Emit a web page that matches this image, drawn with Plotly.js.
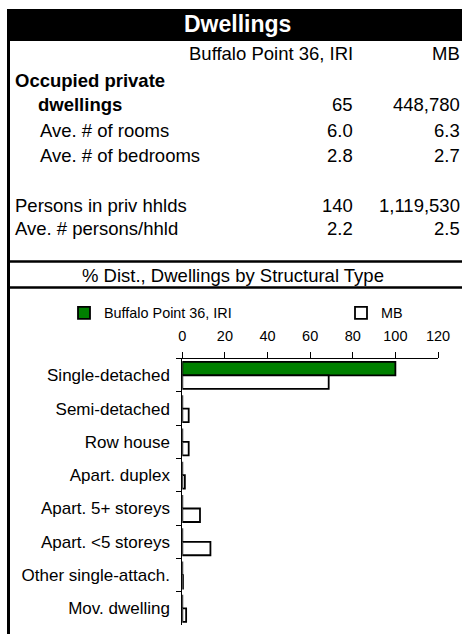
<!DOCTYPE html>
<html>
<head>
<meta charset="utf-8">
<script src="https://cdn.plot.ly/plotly-3.0.1.min.js"></script>
<style>
  body { margin: 0; padding: 0; background: #fff; }
  #plotArea { width: 462px; height: 634px; }
</style>
</head>
<body>
<div id="plotArea"></div>
<script>
// table part
var colHeads = ["Buffalo Point 36, IRI", "MB"];
var rowLabels = ["dwellings", "Ave. # of rooms", "Ave. # of bedrooms", "Persons in priv hhlds", "Ave. # persons/hhld"];
var buffaloVals = ["65", "6.0", "2.8", "140", "2.2"];
var mbVals = ["448,780", "6.3", "2.7", "1,119,530", "2.5"];

// chart part
var categories = ["Single-detached", "Semi-detached", "Row house", "Apart. duplex",
                  "Apart. 5+ storeys", "Apart. <5 storeys", "Other single-attach.", "Mov. dwelling"];
var buffaloPct = [100, 0, 0, 0, 0, 0, 0, 0];
var mbPct = [68.7, 3.0, 3.0, 1.2, 8.3, 13.2, 0.3, 1.8];
var xTicks = [0, 20, 40, 60, 80, 100, 120];

var W = 462, H = 634;
function X(px) { return px / W; }
function Y(py) { return 1 - py / H; }

var font = "'Liberation Sans', Arial, sans-serif";

var trace1 = {
    y: categories,
    x: buffaloPct,
    name: colHeads[0],
    type: "bar",
    orientation: "h",
    marker: {color: "#008000", line: {color: "#000", width: 1.8}},
    legend: "legend"
};

var trace2 = {
    y: categories,
    x: mbPct,
    name: colHeads[1],
    type: "bar",
    orientation: "h",
    marker: {color: "#fff", line: {color: "#000", width: 1.8}},
    legend: "legend2"
};

// text of the table
var ann = [];
function txt(s, x, y, anchor, size, bold, color) {
    ann.push({
        text: bold ? "<b>" + s + "</b>" : s,
        x: X(x), y: Y(y), xref: "paper", yref: "paper",
        xanchor: anchor, yanchor: "middle", showarrow: false,
        font: {family: font, size: size, color: color || "#000"}
    });
}

txt("Dwellings", 237, 24, "center", 23, true, "#fff");
txt(colHeads[0], 355, 53, "right", 18.5);
txt(colHeads[1], 462, 53, "right", 18.5);
txt("Occupied private", 13, 80, "left", 18.5, true);

var rowY = [105, 130, 155, 205, 229];
var rowX = [36, 38, 38, 13, 13];
for (var i = 0; i < rowLabels.length; i++) {
    txt(rowLabels[i], rowX[i], rowY[i], "left", 18.5, i == 0);
    txt(buffaloVals[i], 355, rowY[i], "right", 18.5);
    txt(mbVals[i], 462, rowY[i], "right", 18.5);
}
txt("% Dist., Dwellings by Structural Type", 233, 275, "center", 18.5);

var shapes = [
    // black title band
    {type: "rect", xref: "paper", yref: "paper", x0: X(7), x1: X(462), y0: Y(41), y1: Y(9),
     fillcolor: "#000", line: {width: 0}},
    // left border
    {type: "line", xref: "paper", yref: "paper", x0: X(8.5), x1: X(8.5), y0: Y(40), y1: Y(634),
     line: {color: "#000", width: 3}},
    {type: "line", xref: "paper", yref: "paper", x0: X(7), x1: X(462), y0: Y(261.5), y1: Y(261.5),
     line: {color: "#000", width: 2.5}},
    {type: "line", xref: "paper", yref: "paper", x0: X(7), x1: X(462), y0: Y(287.5), y1: Y(287.5),
     line: {color: "#000", width: 2.5}}
];

var legFont = {family: font, size: 14.4, color: "#000"};

var layout = {
    width: W,
    height: H,
    margin: {l: 0, r: 0, t: 0, b: 0},
    paper_bgcolor: "#fff",
    plot_bgcolor: "#fff",
    font: {family: font, color: "#000"},
    barmode: "group",
    bargap: 0.19,
    bargroupgap: 0,
    showlegend: true,
    legend: {
        x: X(64), xanchor: "left",
        y: Y(313), yanchor: "middle",
        font: legFont,
        bgcolor: "rgba(0,0,0,0)"
    },
    legend2: {
        x: X(341), xanchor: "left",
        y: Y(313), yanchor: "middle",
        font: legFont,
        bgcolor: "rgba(0,0,0,0)"
    },
    xaxis: {
        domain: [X(182.3), X(438)],
        range: [0, 120],
        side: "top",
        tickvals: xTicks,
        ticks: "outside",
        ticklen: 6,
        tickcolor: "#000",
        ticklabelstandoff: 5,
        showline: true,
        linecolor: "#000",
        linewidth: 1,
        showgrid: false,
        zeroline: false,
        tickfont: {family: font, size: 14.5},
        fixedrange: true
    },
    yaxis: {
        domain: [Y(625), Y(358.7)],
        type: "category",
        autorange: "reversed",
        ticks: "outside",
        tickson: "boundaries",
        ticklen: 5,
        tickcolor: "#000",
        ticklabelstandoff: 8,
        showline: true,
        linecolor: "#000",
        linewidth: 1,
        showgrid: false,
        zeroline: false,
        tickfont: {family: font, size: 17},
        fixedrange: true
    },
    annotations: ann,
    shapes: shapes
};

Plotly.newPlot("plotArea", [trace1, trace2], layout, {displayModeBar: false, staticPlot: true});
</script>
</body>
</html>
